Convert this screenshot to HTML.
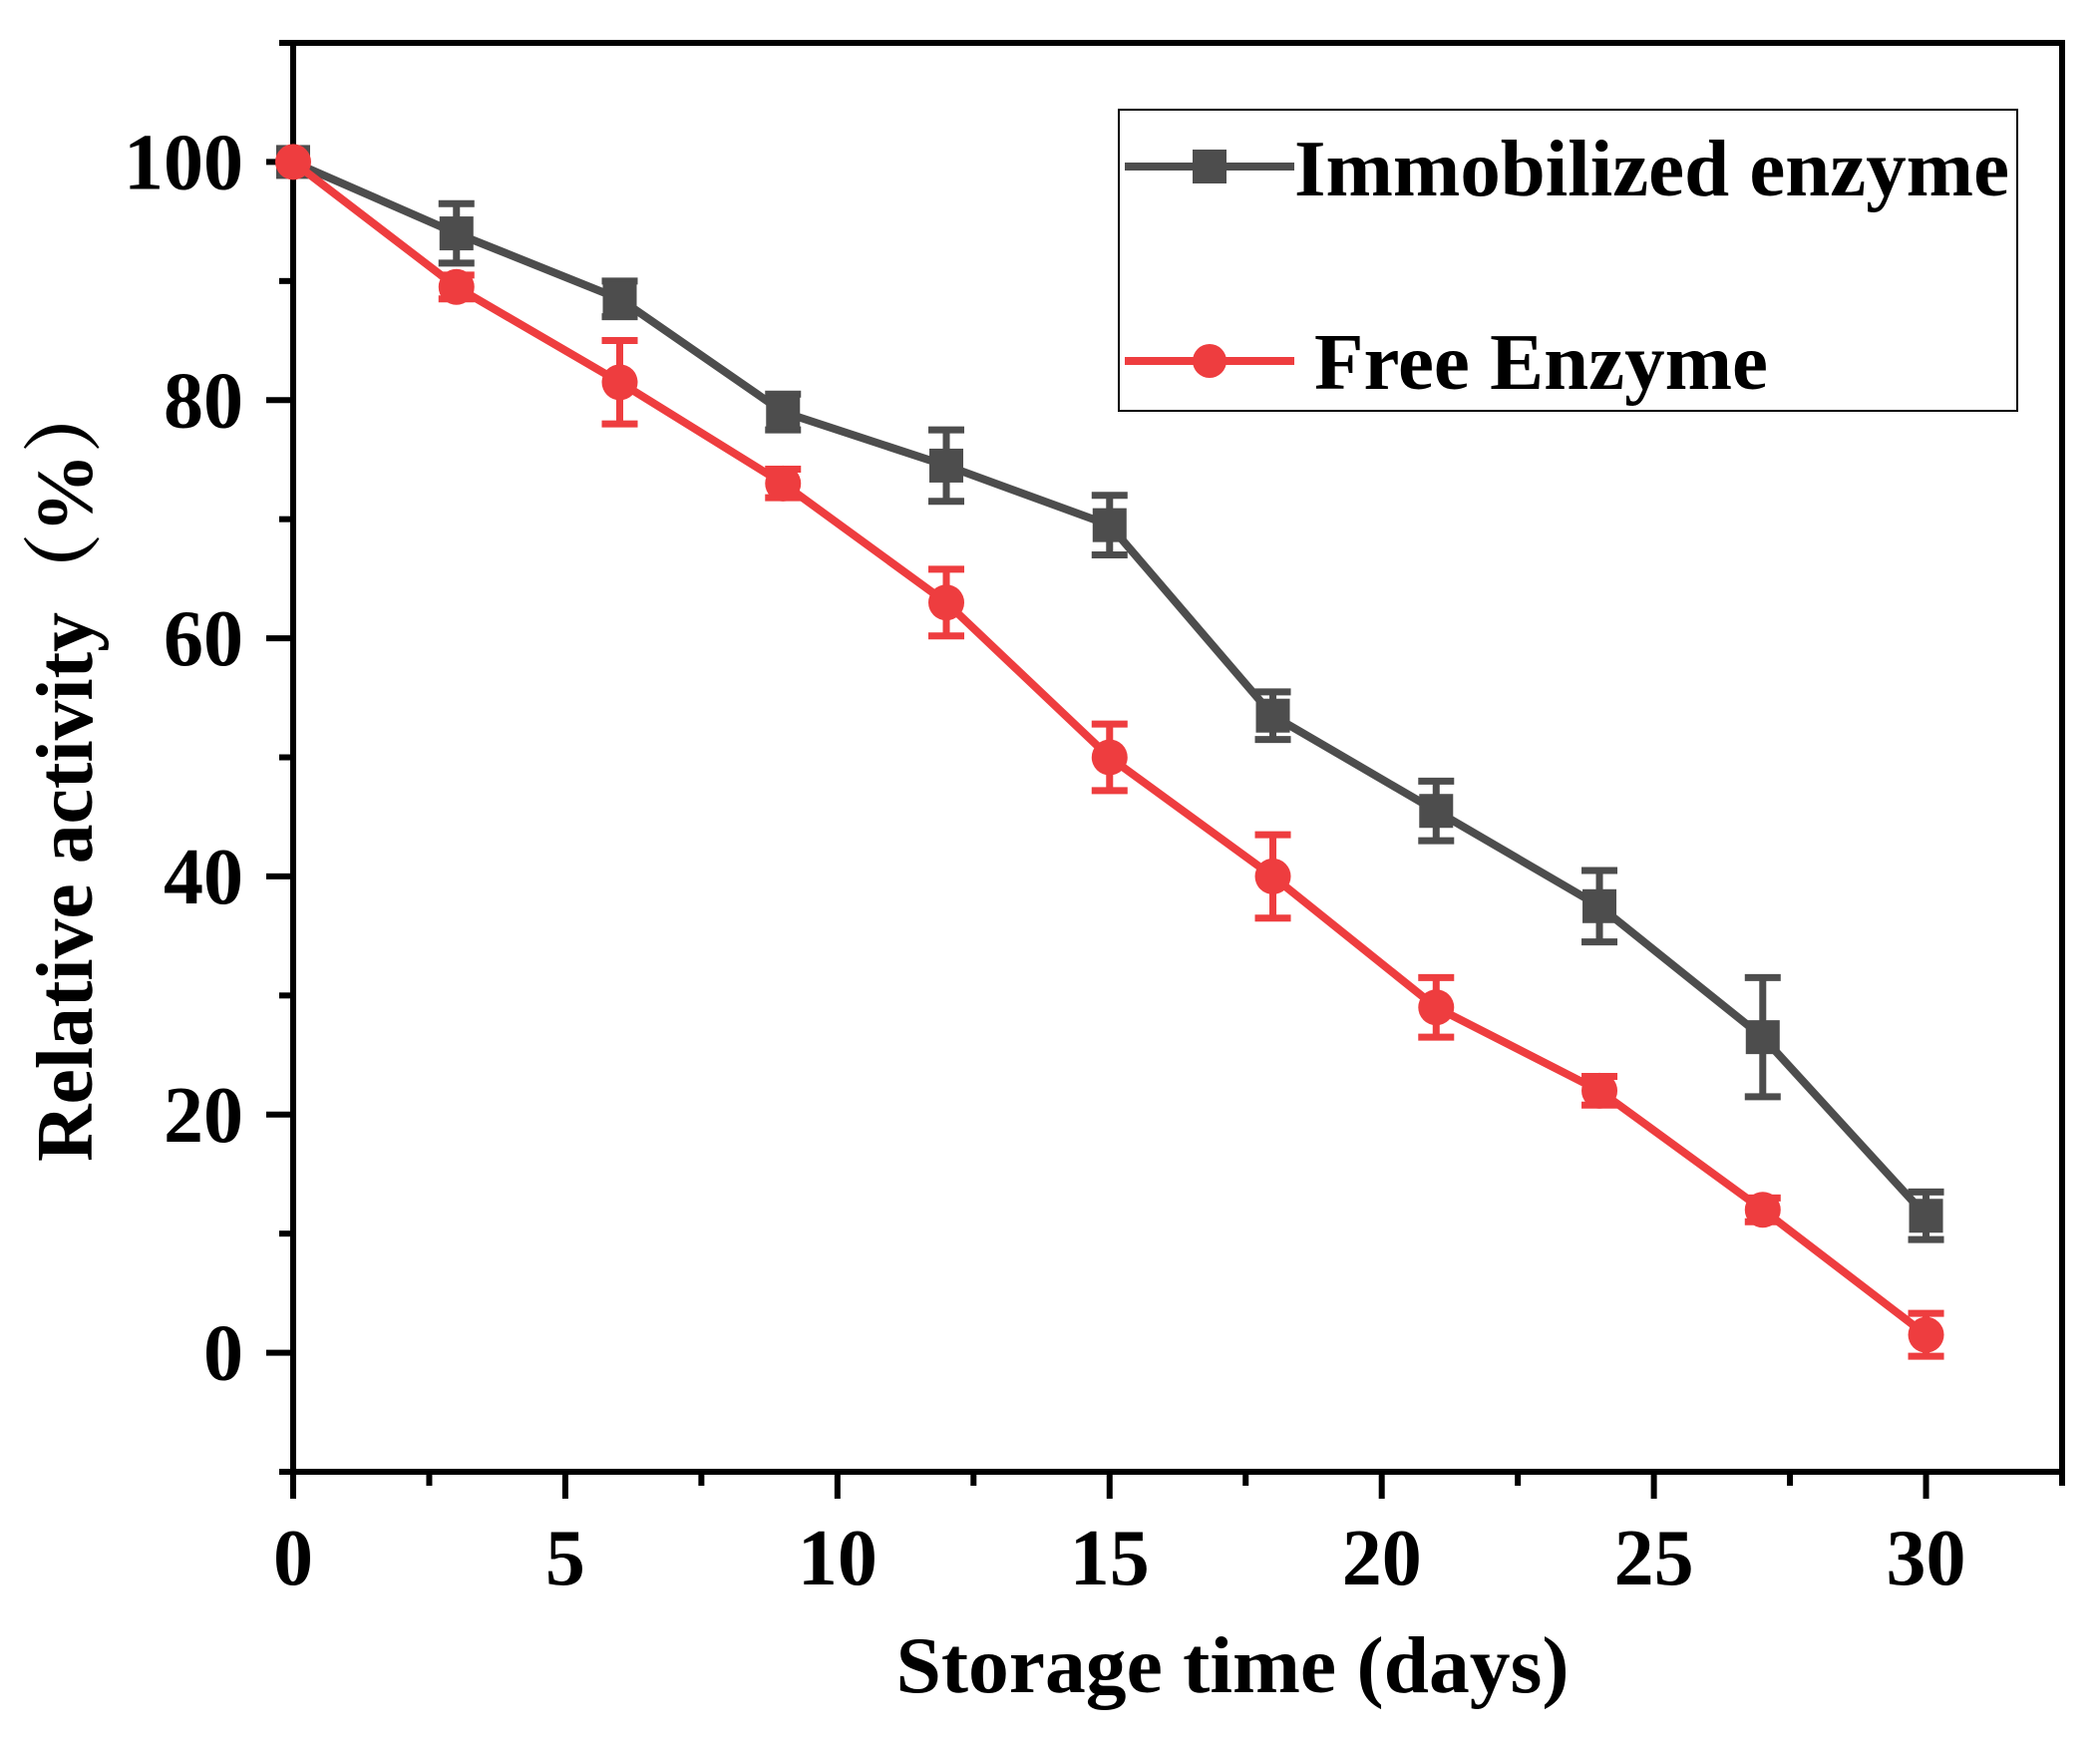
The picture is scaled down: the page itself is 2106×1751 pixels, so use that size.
<!DOCTYPE html>
<html><head><meta charset="utf-8"><style>
html,body{margin:0;padding:0;background:#fff}
svg{display:block}
text{font-family:"Liberation Serif","Noto Serif CJK SC",serif;font-weight:bold;fill:#000}
</style></head><body>
<svg id="chart" width="2106" height="1751" viewBox="0 0 2106 1751" xmlns="http://www.w3.org/2000/svg">
<g id="axes"></g>
<g id="series"></g>
<text x="1236" y="1697" font-size="80" text-anchor="middle" textLength="675" lengthAdjust="spacingAndGlyphs">Storage time (days)</text>
<text transform="translate(92,770) rotate(-90)" font-size="80" text-anchor="middle" textLength="790" lengthAdjust="spacingAndGlyphs">Relative activity（%）</text>
<g>
<rect x="1122" y="110" width="901" height="302" fill="none" stroke="#000" stroke-width="2"/>
<g>
<line x1="1128" y1="167" x2="1298" y2="167" stroke="#4d4d4d" stroke-width="8"/>
<rect x="1196" y="150" width="34" height="34" fill="#4d4d4d"/>
<text x="1298" y="196" font-size="80" textLength="717" lengthAdjust="spacingAndGlyphs">Immobilized enzyme</text>
</g>
<g>
<line x1="1128" y1="362" x2="1298" y2="362" stroke="#ee3d3f" stroke-width="8"/>
<circle cx="1213" cy="362" r="17" fill="#ee3d3f"/>
<text x="1318" y="390" font-size="80" textLength="455" lengthAdjust="spacingAndGlyphs">Free Enzyme</text>
</g>
</g>
</svg>
<script>
const days = [0,3,6,9,12,15,18,21,24,27,30];
const immobilized = [100,94,88.5,79,74.5,69.5,53.5,45.5,37.5,26.5,11.5];
const immobilizedErr = [0,2.5,1.5,1.5,3,2.5,2,2.5,3,5,2];
const freeEnzyme = [100,89.5,81.5,73,63,50,40,29,22,12,1.5];
const freeErr = [0,1,3.5,1.2,2.8,2.8,3.5,2.5,1.2,1,1.8];
const xTicks = [0,5,10,15,20,25,30];
const yTicks = [0,20,40,60,80,100];

const NS = "http://www.w3.org/2000/svg";
const X0=294, X1=2068, Y0=1476, Y1=43;
const xMin=0, xMax=32.5, yMin=-10, yMax=110;
function sx(v){return X0+(v-xMin)/(xMax-xMin)*(X1-X0);}
function sy(v){return Y0-(v-yMin)/(yMax-yMin)*(Y0-Y1);}
function mk(tag,attrs,parent){const e=document.createElementNS(NS,tag);for(const k in attrs)e.setAttribute(k,attrs[k]);parent.appendChild(e);return e;}
const axes=document.getElementById('axes');
const series=document.getElementById('series');

const frame=mk('rect',{x:X0,y:Y1,width:X1-X0,height:Y0-Y1,fill:'none',stroke:'#000','stroke-width':6},axes);



for(let v=0; v<=xMax+0.001; v+=2.5){
  const major = Math.abs(v%5)<0.001;
  const t=mk('line',{x1:sx(v),x2:sx(v),y1:Y0,y2:Y0+(major?27:14),stroke:'#000','stroke-width':6},axes);
  
  
}
xTicks.forEach(v=>{
  const t=mk('text',{x:sx(v),y:Y0+113,'font-size':80,'text-anchor':'middle'},axes);
  t.textContent=v;
  
  
});
for(let v=-10; v<=110; v+=10){
  const major = v%20===0;
  const t=mk('line',{x1:X0,x2:X0-(major?27:14),y1:sy(v),y2:sy(v),stroke:'#000','stroke-width':6},axes);
  
  
}
yTicks.forEach(v=>{
  const t=mk('text',{x:X0-50,y:sy(v)+27,'font-size':80,'text-anchor':'end'},axes);
  t.textContent=v;
  
  
});

function drawSeries(vals,errs,color,shape,name){
  const g=mk('g',{},series);
  
  
  const pts=days.map((d,i)=>sx(d)+','+sy(vals[i])).join(' ');
  const pl=mk('polyline',{points:pts,fill:'none',stroke:color,'stroke-width':8,'stroke-linejoin':'miter'},g);
  
  
  days.forEach((d,i)=>{
    const x=sx(d), y=sy(vals[i]);
    if(errs[i]>0){
      const yt=sy(vals[i]+errs[i]), yb=sy(vals[i]-errs[i]);
      const eb=mk('path',{d:`M${x},${yt}V${yb}M${x-18},${yt}H${x+18}M${x-18},${yb}H${x+18}`,stroke:color,'stroke-width':7,fill:'none'},g);
      
      
    }
    let m;
    if(shape==='square') m=mk('rect',{x:x-17,y:y-17,width:34,height:34,fill:color},g);
    else m=mk('circle',{cx:x,cy:y,r:18,fill:color},g);
    
    
  });
}
drawSeries(immobilized,immobilizedErr,'#4d4d4d','square','immobilized');
drawSeries(freeEnzyme,freeErr,'#ee3d3f','circle','free-enzyme');
</script>
</body></html>
